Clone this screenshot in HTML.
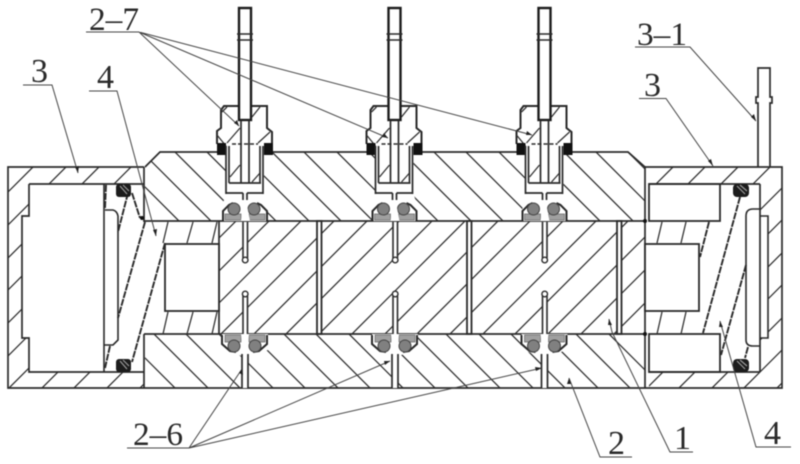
<!DOCTYPE html>
<html><head><meta charset="utf-8"><style>
html,body{margin:0;padding:0;background:#fff;width:800px;height:464px;overflow:hidden}
svg{display:block;filter:blur(.4px)}
text{font-family:"Liberation Serif",serif;fill:#2a2a2a}
.l{fill:none;stroke:#2a2a2a;stroke-width:1.6}
.h{fill:none;stroke:#333;stroke-width:1.3}
.t{fill:none;stroke:#2a2a2a;stroke-width:2}
.m{fill:none;stroke:#2a2a2a;stroke-width:1.7}
.s{fill:none;stroke:#2a2a2a;stroke-width:1.9;stroke-dasharray:7 1}
.a{fill:none;stroke:#444;stroke-width:1}
.w{fill:#fff;stroke:#2a2a2a;stroke-width:1.8}
.n{fill:#fff;stroke:none}
</style></head><body>
<svg width="800" height="464" viewBox="0 0 800 464" xmlns="http://www.w3.org/2000/svg">
<defs>
<clipPath id="cU"><polygon points="145,167 160,152 628,152 645,167 645,221 145,221"/></clipPath>
<clipPath id="cC"><rect x="219" y="221" width="426" height="113"/></clipPath>
<clipPath id="cB"><rect x="145" y="334" width="500" height="54"/></clipPath>
<clipPath id="cL"><polygon points="8,167 144,167 144,184 29,184 29,216 22,216 22,338 29,338 29,372 144,372 144,388 8,388"/></clipPath>
<clipPath id="cR"><polygon points="649,167 782,167 782,388 649,388 649,372 760,372 760,338 768,338 768,216 760,216 760,184 649,184"/></clipPath>
<g id="top">
  <polygon class="n" points="217,106 272,106 272,155 264,155 264,194 267,203 267,221 223,221 223,203 226,194 226,155 217,155"/>
  <path class="t" d="M217,144V131L221,128V110L224,106H267V128L272,132V144"/>
  <path class="h" d="M252,117L260,107M222,112L227,107M227,143L240,128M258,143L270,132M230,177L240,165M252,182L260,173M226,146L217,135"/>
  <rect x="239" y="8" width="12" height="112" fill="#fff" stroke="#1c1c1c" stroke-width="2.4"/>
  <path class="l" d="M237,34H253M237,40H253"/>
  <path class="m" d="M241,120V183M249,120V183"/>
  <rect x="217" y="143" width="9" height="12" fill="#111"/>
  <rect x="264" y="143" width="9" height="12" fill="#111"/>
  <path class="m" d="M226,146V194M263,146V194M229,146V183M260,146V183M229,183H261M226,193H243M247,193H263"/>
  <path d="M232,144H258" fill="none" stroke="#2a2a2a" stroke-width="1.5" stroke-dasharray="4 2"/>
  <path class="m" d="M243,193V200M247,193V200"/>
  <path class="t" d="M223,221V211L229,205L233,203M267,221V211L261,205L257,203"/>
  <path d="M225,214H241V220H225ZM249,214H265V220H249Z" fill="#a0a0a0" stroke="#666" stroke-width=".7"/>
  <circle cx="234" cy="209" r="6" fill="#808080" stroke="#444" stroke-width="1"/>
  <circle cx="254" cy="209" r="6" fill="#808080" stroke="#444" stroke-width="1"/>
  <path class="n" d="M241,221L243,205H247L250,221Z"/>
</g>
<g id="bot">
  <polygon class="n" points="222,334 268,334 268,350 248,356 248,388 242,388 242,356 222,350"/>
  <path class="t" d="M222,335V344L230,351L236,352M267,335V344L259,351L253,352"/>
  <path d="M225,335H241V342H225ZM249,335H265V342H249Z" fill="#a0a0a0" stroke="#666" stroke-width=".7"/>
  <circle cx="234" cy="346" r="6" fill="#808080" stroke="#444" stroke-width="1"/>
  <circle cx="255" cy="346" r="6" fill="#808080" stroke="#444" stroke-width="1"/>
  <path class="n" d="M241,334L243,354H247L249,334Z"/>
  <path class="m" d="M242,354V388M248,354V388"/>
  <path class="n" d="M242.500,222H247.500V260H242.500ZM242.500,294H247.500V334H242.500Z"/>
  <path class="l" d="M243,222V258M247.500,222V258M243,334V296M247.500,334V296"/>
  <circle cx="245.200" cy="260" r="2.800" class="w" style="stroke-width:1.400"/>
  <circle cx="245.200" cy="294" r="2.800" class="w" style="stroke-width:1.400"/>
</g>
</defs>

<rect width="800" height="464" fill="#fff"/>

<g clip-path="url(#cU)"><path class="h" d="M110,152L179,221M142,152L211,221M175,152L244,221M207,152L276,221M240,152L309,221M272,152L341,221M304,152L373,221M337,152L406,221M369,152L438,221M402,152L471,221M434,152L503,221M466,152L535,221M499,152L568,221M531,152L600,221M564,152L633,221M596,152L665,221M628,152L697,221"/></g>
<g clip-path="url(#cC)"><path class="h" d="M236,221L123,334M269,221L156,334M301,221L188,334M334,221L221,334M367,221L254,334M399,221L286,334M432,221L319,334M465,221L352,334M498,221L385,334M530,221L417,334M563,221L450,334M596,221L483,334M628,221L515,334M661,221L548,334M694,221L581,334M727,221L614,334M759,221L646,334"/></g>
<g clip-path="url(#cB)"><path class="h" d="M121,334L175,388M154,334L208,388M186,334L240,388M219,334L273,388M251,334L305,388M284,334L338,388M316,334L370,388M349,334L403,388M381,334L435,388M414,334L468,388M446,334L500,388M479,334L533,388M511,334L565,388M544,334L598,388M576,334L630,388M609,334L663,388"/></g>
<g clip-path="url(#cL)"><path class="h" d="M33,167L-188,388M66,167L-155,388M99,167L-122,388M131,167L-90,388M164,167L-57,388M197,167L-24,388M230,167L9,388M263,167L42,388M295,167L74,388M328,167L107,388M361,167L140,388"/></g>
<g clip-path="url(#cR)"><path class="h" d="M673,167L452,388M705,167L484,388M738,167L517,388M770,167L549,388M803,167L582,388M835,167L614,388M868,167L647,388M900,167L679,388M933,167L712,388M965,167L744,388M998,167L777,388"/></g>

<!-- separators -->
<rect x="317" y="221" width="4.500" height="113" class="w"/>
<rect x="467" y="221" width="4.500" height="113" class="w"/>
<rect x="617" y="221" width="4.500" height="113" class="w"/>

<!-- main outlines -->
<path class="m" d="M144,167H8V388H144M144,167V222M144,334V388M144,388H645M645,388H782V167H645M29,184H144M29,184V216H22V338H29V372H144"/>
<path class="m" d="M145,167L160,152H218M272,152H370M422,152H518M572,152H628L645,167V388"/>
<path class="m" d="M144,221H645M144,334H645M219,221V334"/>

<!-- left interior -->
<rect x="165" y="244" width="54" height="67" class="w"/>
<path class="l" d="M104,184V372M105,210H113Q117,211 118,216V340L113,345H104"/>
<path class="h" d="M168,222L163,243M193,222L187,243M217,222L212,243M168,312L163,334M193,312L187,334M217,312L212,334"/>
<path class="s" d="M145,222L118,318M128,193L118,232M165,243L132,362M132,193L140,218M110,346L105,368M106,185L105,208"/>
<rect x="116" y="184" width="15" height="13" rx="3" fill="#1c1c1c"/>
<rect x="116" y="359" width="15" height="13" rx="3" fill="#1c1c1c"/>
<path d="M120,186L127,194M123,185L129,191M120,361L127,369M123,360L129,366" stroke="#999" stroke-width="1.200" fill="none"/>
<circle cx="142" cy="218" r="2" fill="#111"/>

<!-- right interior -->
<rect x="649" y="184" width="71" height="37" class="w"/>
<rect x="649" y="334" width="71" height="38" class="w"/>
<rect x="645" y="244" width="54" height="67" class="w"/>
<path class="h" d="M662,222L657,243M686,222L681,243M662,312L657,334M686,312L681,334"/>
<path class="s" d="M709,222L700,257M740,197L703,333M746,265L721,355M748,347L745,358"/>
<path class="m" d="M760,184V372M649,184H760M649,372H760"/>
<path class="l" d="M746,216Q746,209 753,209H760M746,216V340Q746,346 753,346H760M760,216H768V338H760"/>
<rect x="733" y="184" width="16" height="13" rx="4" fill="#1c1c1c"/>
<rect x="733" y="359" width="16" height="13" rx="4" fill="#1c1c1c"/>
<path d="M737,186L745,194M740,185L747,191M737,361L745,369M740,360L747,366" stroke="#999" stroke-width="1.200" fill="none"/>
<circle cx="645" cy="221" r="2" fill="#111"/><circle cx="645" cy="334" r="2" fill="#111"/>

<!-- tube 3-1 -->
<path class="m" d="M758,167V103H756V97H758V68H770V97H772V103H770V167"/>

<!-- assemblies -->
<use href="#top"/><use href="#top" x="149.500"/><use href="#top" x="299.500"/>
<use href="#bot"/><use href="#bot" x="150"/><use href="#bot" x="299.500"/>

<!-- leaders -->
<path class="a" d="M86,32H139L239,126M139,32L388,138M139,32L532,135"/>
<path class="a" d="M23,85H52L78,173M89,91H117L156,236"/>
<path class="a" d="M635,47H690L756,121M639,98.500H666L713,166"/>
<path class="a" d="M127,448H189L242,369M189,448L390,361M189,448L542,368"/>
<path class="a" d="M632,457H600L569,378M693,452H670L612,332L609,319M791,447H756L720,321"/>
<path d="M239,126L234,123L237,120ZM388,138L382,137L384,133ZM532,135L526,135L527,131ZM78,173L75,167L79,166ZM156,236L153,230L157,229ZM756,121L751,117L754,114ZM713,166L708,161L711,159ZM242,369L243,375L239,373ZM390,361L385,365L384,361ZM542,368L536,371L535,367ZM569,378L571,384L567,384ZM609,319L612,325L608,325ZM720,321L723,327L719,327Z" fill="#222"/>

<!-- labels -->
<text x="89" y="30" font-size="33" textLength="50" lengthAdjust="spacingAndGlyphs">2–7</text>
<text x="31" y="82" font-size="34">3</text>
<text x="97" y="88" font-size="34">4</text>
<text x="637" y="45" font-size="33" textLength="50" lengthAdjust="spacingAndGlyphs">3–1</text>
<text x="644" y="96" font-size="34">3</text>
<text x="133" y="445" font-size="33" textLength="50" lengthAdjust="spacingAndGlyphs">2–6</text>
<text x="608" y="454" font-size="34">2</text>
<text x="674" y="449" font-size="34">1</text>
<text x="764" y="444" font-size="34">4</text>
</svg>
</body></html>
